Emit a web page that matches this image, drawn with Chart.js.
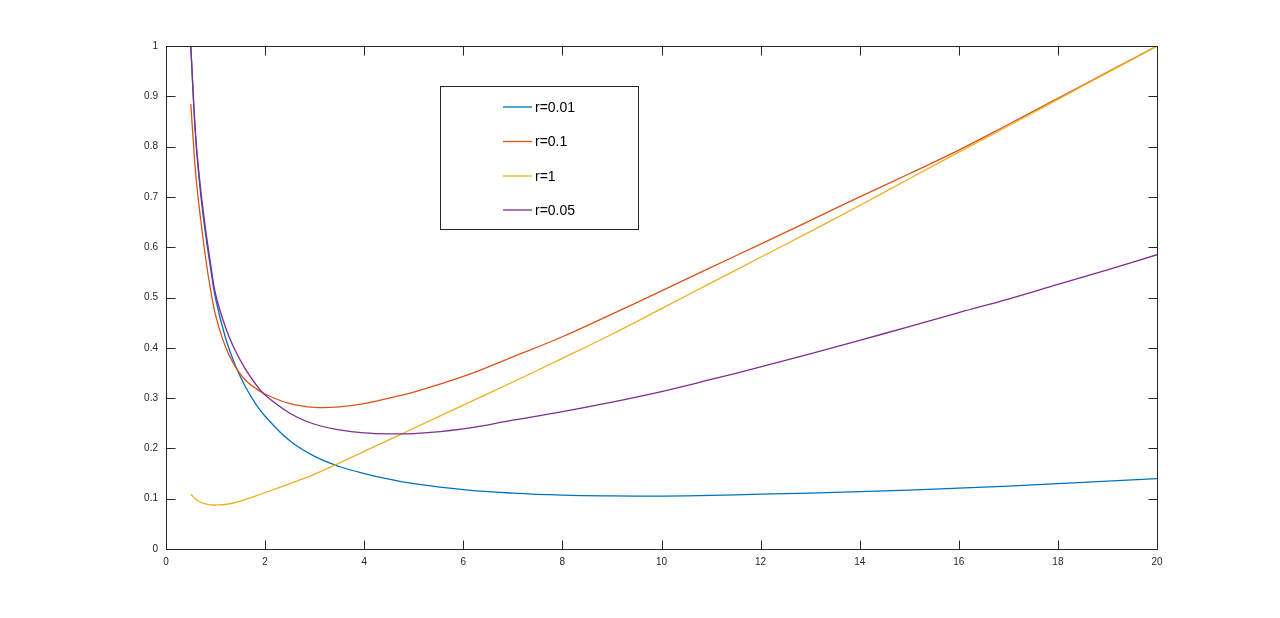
<!DOCTYPE html>
<html>
<head>
<meta charset="utf-8">
<script src="https://cdn.jsdelivr.net/npm/chart.js@4.4.1/dist/chart.umd.min.js"></script>
<style>
    body { margin: 0; background: #ffffff; }
    canvas { display: block; }
</style>
</head>
<body>
<canvas id="grafico" width="1280" height="618"></canvas>
<script>
// valores
const valoresX = [0.5, 0.6, 0.7, 0.8, 0.9, 1, 1.2, 1.4, 1.6, 1.8, 2, 2.5, 3, 3.5, 4, 4.5, 5, 6, 7, 8, 9, 10, 11, 12, 13, 14, 15, 16, 17, 18, 19, 20];
const serieR001 = [1.0, 0.815, 0.705, 0.625, 0.558, 0.498, 0.42, 0.365, 0.323, 0.29, 0.264, 0.215, 0.184, 0.164, 0.150, 0.139, 0.130, 0.118, 0.111, 0.107, 0.1055, 0.1053, 0.1065, 0.109, 0.111, 0.114, 0.117, 0.121, 0.125, 0.130, 0.135, 0.140];
const serieR01 = [0.885, 0.745, 0.655, 0.578, 0.515, 0.465, 0.402, 0.362, 0.336, 0.320, 0.308, 0.289, 0.2815, 0.2825, 0.289, 0.300, 0.312, 0.343, 0.382, 0.422, 0.467, 0.513, 0.560, 0.606, 0.653, 0.700, 0.746, 0.793, 0.844, 0.896, 0.948, 1.0];
const serieR1 = [0.109, 0.099, 0.093, 0.0895, 0.0878, 0.0875, 0.0885, 0.0925, 0.0985, 0.105, 0.112, 0.130, 0.149, 0.171, 0.194, 0.217, 0.240, 0.286, 0.332, 0.379, 0.427, 0.478, 0.529, 0.580, 0.631, 0.683, 0.736, 0.789, 0.841, 0.894, 0.947, 1.0];
const serieR005 = [1.0, 0.82, 0.715, 0.635, 0.567, 0.507, 0.441, 0.394, 0.358, 0.329, 0.306, 0.270, 0.248, 0.237, 0.231, 0.229, 0.2295, 0.239, 0.256, 0.273, 0.292, 0.313, 0.337, 0.362, 0.388, 0.415, 0.442, 0.470, 0.497, 0.526, 0.555, 0.585];
const etiquetas = ['r=0.01', 'r=0.1', 'r=1', 'r=0.05'];
const colores = ['#0072BD', '#D95319', '#EDB120', '#7E2F8E'];
const ticksX = [0, 2, 4, 6, 8, 10, 12, 14, 16, 18, 20];
const ticksY = [0, 0.1, 0.2, 0.3, 0.4, 0.5, 0.6, 0.7, 0.8, 0.9, 1];

const colorEjes = '#262626';

function armarPuntos(serie) {
    return valoresX.map((x, i) => ({ x: x, y: serie[i] }));
}

// caja de los ejes con marcas hacia adentro (estilo matlab)
const pluginCaja = {
    id: 'caja',
    afterDatasetsDraw(chart) {
        const ctx = chart.ctx;
        const area = chart.chartArea;
        const escX = chart.scales.x;
        const escY = chart.scales.y;
        const largo = 9;
        const l = Math.round(area.left) + 0.5;
        const r = Math.round(area.right) + 0.5;
        const t = Math.round(area.top) + 0.5;
        const b = Math.round(area.bottom) + 0.5;
        ctx.save();
        ctx.strokeStyle = colorEjes;
        ctx.lineWidth = 1;
        ctx.beginPath();
        ticksX.forEach(v => {
            const px = Math.round(escX.getPixelForValue(v)) + 0.5;
            ctx.moveTo(px, b);
            ctx.lineTo(px, b - largo);
            ctx.moveTo(px, t);
            ctx.lineTo(px, t + largo);
        });
        ticksY.forEach(v => {
            const py = Math.round(escY.getPixelForValue(v)) + 0.5;
            ctx.moveTo(l, py);
            ctx.lineTo(l + largo, py);
            ctx.moveTo(r, py);
            ctx.lineTo(r - largo, py);
        });
        ctx.stroke();
        ctx.strokeRect(l, t, r - l, b - t);
        ctx.restore();
    }
};

// leyenda dentro del grafico
const pluginLeyenda = {
    id: 'leyendaCaja',
    afterDraw(chart) {
        const ctx = chart.ctx;
        const caja = { x: 440.5, y: 86.5, w: 198, h: 143 };
        const filas = [107, 141.5, 176, 210];
        ctx.save();
        ctx.fillStyle = '#ffffff';
        ctx.fillRect(caja.x, caja.y, caja.w, caja.h);
        ctx.strokeStyle = colorEjes;
        ctx.lineWidth = 1;
        ctx.strokeRect(caja.x, caja.y, caja.w, caja.h);
        ctx.font = '14px "Liberation Sans", Arial, sans-serif';
        ctx.textBaseline = 'middle';
        ctx.textAlign = 'left';
        chart.data.datasets.forEach((ds, i) => {
            const y = filas[i];
            ctx.strokeStyle = ds.borderColor;
            ctx.lineWidth = 1.3;
            ctx.beginPath();
            ctx.moveTo(503, y);
            ctx.lineTo(532, y);
            ctx.stroke();
            ctx.fillStyle = '#000000';
            ctx.fillText(ds.label, 535, y + 1);
        });
        ctx.restore();
    }
};

document.addEventListener('DOMContentLoaded', function () {
    const ctx = document.getElementById('grafico').getContext('2d');
    const series = [serieR001, serieR01, serieR1, serieR005];

    const datasets = series.map((serie, i) => ({
        label: etiquetas[i],
        data: armarPuntos(serie),
        borderColor: colores[i],
        backgroundColor: colores[i],
        borderWidth: 1.3,
        pointRadius: 0,
        fill: false,
        tension: 0.4,
        order: series.length - 1 - i
    }));

    new Chart(ctx, {
        type: 'line',
        data: { datasets: datasets },
        plugins: [pluginCaja, pluginLeyenda],
        options: {
            responsive: false,
            animation: false,
            devicePixelRatio: 1,
            layout: { padding: { left: 0, top: 46, right: 123, bottom: 0 } },
            plugins: {
                legend: { display: false },
                tooltip: { enabled: false }
            },
            scales: {
                x: {
                    type: 'linear',
                    min: 0,
                    max: 20,
                    afterFit: function (escala) { escala.height = 69; },
                    afterBuildTicks: function (escala) {
                        escala.ticks = ticksX.map(v => ({ value: v }));
                    },
                    grid: { display: false, drawTicks: false },
                    border: { display: false },
                    ticks: {
                        padding: 7,
                        maxRotation: 0,
                        color: colorEjes,
                        font: { family: '"Liberation Sans", Arial, sans-serif', size: 10 },
                        callback: v => String(v)
                    }
                },
                y: {
                    type: 'linear',
                    min: 0,
                    max: 1,
                    afterFit: function (escala) { escala.width = 166; },
                    afterBuildTicks: function (escala) {
                        escala.ticks = ticksY.map(v => ({ value: v }));
                    },
                    grid: { display: false, drawTicks: false },
                    border: { display: false },
                    ticks: {
                        padding: 8,
                        color: colorEjes,
                        font: { family: '"Liberation Sans", Arial, sans-serif', size: 10 },
                        callback: v => String(Number(v.toFixed(1)))
                    }
                }
            }
        }
    });
});
</script>
</body>
</html>
